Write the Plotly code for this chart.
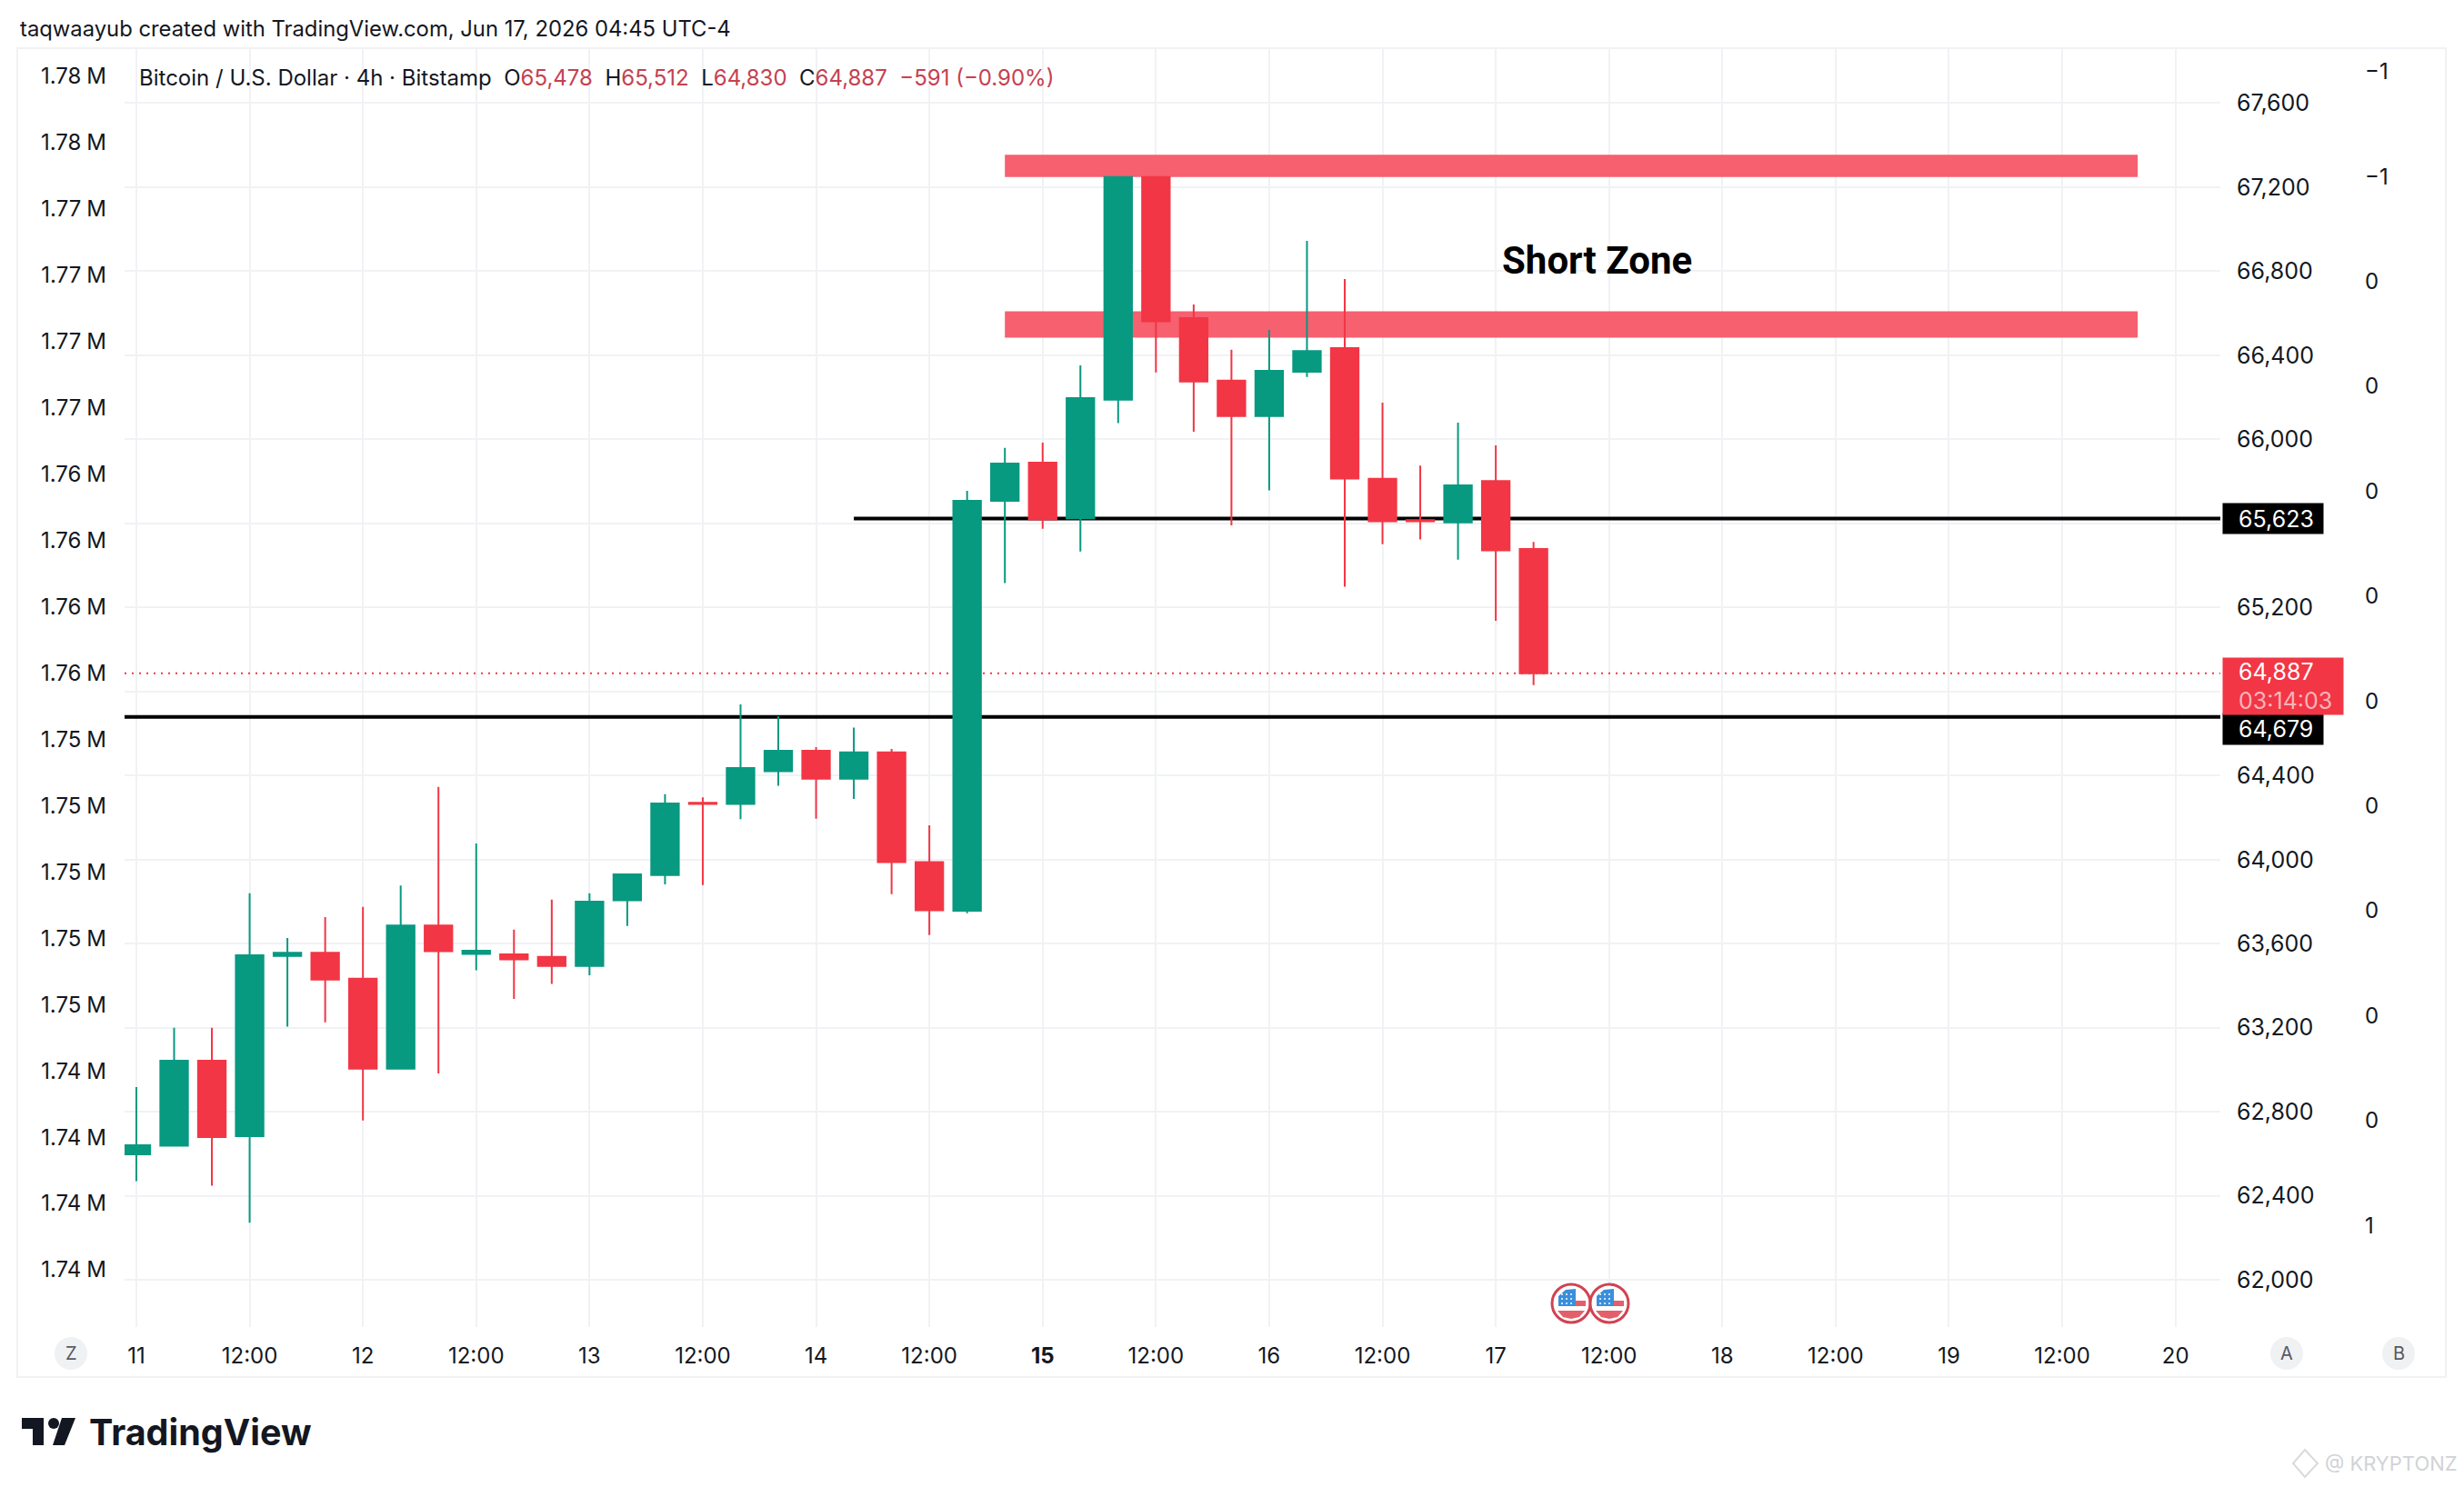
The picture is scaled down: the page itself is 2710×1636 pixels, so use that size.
# BTC 4h chart with short zone, tradingview style
import pandas as pd
import plotly.graph_objects as go

W = 2710
H = 1636

# candles, every 4h from jun 11 00:00
candle_open = [62598, 62639, 63043, 62684, 63542, 63557, 63433, 63005, 63687, 63551,
               63549, 63537, 63494, 63807, 63927, 64270, 64265, 64421, 64518, 64385,
               64510, 63988, 63757, 65707, 65889, 65624, 66188, 67248, 66576, 66279,
               66111, 66321, 66434, 65812, 65615, 65605, 65801, 65478]
candle_high = [62918, 63200, 63200, 63840, 63627, 63727, 63775, 63877, 64346, 64077,
               63667, 63810, 63840, 63930, 64311, 64296, 64739, 64682, 64535, 64628,
               64527, 64163, 65755, 65959, 65984, 66352, 67248, 67248, 66641, 66426,
               66520, 66944, 66762, 66174, 65875, 66079, 65971, 65512]
candle_low = [62470, 62639, 62448, 62272, 63205, 63226, 62759, 63005, 62983, 63474,
              63337, 63409, 63450, 63684, 63882, 63879, 64192, 64351, 64195, 64289,
              63836, 63641, 63745, 65316, 65574, 65466, 66077, 66318, 66036, 65591,
              65757, 66297, 65299, 65501, 65523, 65427, 65136, 64830]
candle_close = [62641, 63043, 62680, 63545, 63557, 63429, 63005, 63687, 63564, 63566,
                63525, 63494, 63800, 63930, 64267, 64265, 64436, 64518, 64385, 64510,
                63988, 63759, 65707, 65885, 65619, 66196, 67248, 66561, 66275, 66111,
                66326, 66420, 65813, 65610, 65610, 65781, 65472, 64887]
times = pd.date_range("2026-06-11 00:00", periods=len(candle_open), freq="4h")

price_ticks = [67600, 67200, 66800, 66400, 66000, 65600, 65200, 64800, 64400, 64000,
               63600, 63200, 62800, 62400, 62000]
price_labels = ["67,600", "67,200", "66,800", "66,400", "66,000", "", "65,200", "", "64,400",
                "64,000", "63,600", "63,200", "62,800", "62,400", "62,000"]

left_ticks = [1782500, 1780000, 1777500, 1775000, 1772500, 1770000, 1767500, 1765000, 1762500,
              1760000, 1757500, 1755000, 1752500, 1750000, 1747500, 1745000, 1742500, 1740000,
              1737500]
left_labels = ["1.78", "1.78", "1.77", "1.77", "1.77", "1.77", "1.76", "1.76", "1.76", "1.76",
               "1.75", "1.75", "1.75", "1.75", "1.75", "1.74", "1.74", "1.74", "1.74"]

right_ticks = [-1.0, -0.8, -0.6, -0.4, -0.2, 0.0, 0.2, 0.4, 0.6, 0.8, 1.0, 1.2]
right_labels = ["−1", "−1", "0", "0", "0", "0", "0", "0", "0", "0", "0", "1"]

time_ticks = pd.date_range("2026-06-11 00:00", periods=19, freq="12h")
time_labels = ["11", "12:00", "12", "12:00", "13", "12:00", "14", "12:00", "<b>15</b>", "12:00",
               "16", "12:00", "17", "12:00", "18", "12:00", "19", "12:00", "20"]

zone_high = [67354, 66609]
zone_low = [67248, 66484]
level_upper = 65623
level_lower = 64679
last_price = 64887

GREEN = "#089981"
RED = "#f23645"
GRID = "#f1f2f5"
INK = "#131722"
FONT = "Inter"


def fx(x):
    return x / W


def fy(y):
    return 1 - y / H


def poly(points):
    return "M" + " L".join(f"{fx(x):.5f},{fy(y):.5f}" for x, y in points) + " Z"


fig = go.Figure()

fig.add_trace(go.Candlestick(
    x=times, open=candle_open, high=candle_high, low=candle_low, close=candle_close,
    increasing=dict(line=dict(color=GREEN, width=2), fillcolor=GREEN),
    decreasing=dict(line=dict(color=RED, width=2), fillcolor=RED),
    whiskerwidth=0, showlegend=False))

# the side axes need a trace or they dont draw
fig.add_trace(go.Scatter(x=times[:1], y=left_ticks[:1], yaxis="y2", mode="none",
                         showlegend=False, hoverinfo="skip"))
fig.add_trace(go.Scatter(x=times[:1], y=right_ticks[:1], yaxis="y3", mode="none",
                         showlegend=False, hoverinfo="skip"))

shapes = []

# frame
shapes.append(dict(type="rect", xref="paper", yref="paper", x0=fx(19), x1=fx(2690),
                   y0=fy(53), y1=fy(1515), line=dict(color=GRID, width=2), layer="below"))

# short zones, "between" keeps them over the grid and under the candles
for hi, lo in zip(zone_high, zone_low):
    shapes.append(dict(type="rect", xref="x", yref="y", x0="2026-06-14 20:00", x1="2026-06-19 20:00",
                       y0=lo, y1=hi, fillcolor="#f6606f", line=dict(width=0), layer="between"))

# levels
shapes.append(dict(type="line", xref="x", yref="y", x0="2026-06-14 04:00", x1="2026-06-20 04:45",
                   y0=level_upper, y1=level_upper, line=dict(color="#000000", width=4), layer="between"))
shapes.append(dict(type="line", xref="x", yref="y", x0="2026-06-10 22:45", x1="2026-06-20 04:45",
                   y0=level_lower, y1=level_lower, line=dict(color="#000000", width=4), layer="between"))
shapes.append(dict(type="line", xref="x", yref="y", x0="2026-06-10 22:45", x1="2026-06-20 04:45",
                   y0=last_price, y1=last_price, line=dict(color=RED, width=2, dash="2px,6px"), layer="between"))

# little round buttons under the chart
for cx in [78, 2515, 2638]:
    shapes.append(dict(type="circle", xref="paper", yref="paper", x0=fx(cx - 18), x1=fx(cx + 18),
                       y0=fy(1489 + 18), y1=fy(1489 - 18), fillcolor="#f0f1f3", line=dict(width=0)))

# tradingview logo
shapes.append(dict(type="path", xref="paper", yref="paper", fillcolor="#131722", line=dict(width=0),
                   path=poly([(24, 1560), (48, 1560), (48, 1590), (36, 1590), (36, 1572), (24, 1572)])))
shapes.append(dict(type="circle", xref="paper", yref="paper", x0=fx(53), x1=fx(65), y0=fy(1572), y1=fy(1560),
                   fillcolor="#131722", line=dict(width=0)))
shapes.append(dict(type="path", xref="paper", yref="paper", fillcolor="#131722", line=dict(width=0),
                   path=poly([(68, 1560), (83, 1560), (71, 1590), (58, 1590)])))

# usa event flags
for cx in [1728, 1770]:
    cy = 1434
    shapes.append(dict(type="circle", xref="paper", yref="paper", x0=fx(cx - 21), x1=fx(cx + 21),
                       y0=fy(cy + 21), y1=fy(cy - 21), fillcolor="#ffffff", line=dict(color="#cf4452", width=3)))
    shapes.append(dict(type="path", xref="paper", yref="paper", fillcolor="#3a8fdc", line=dict(width=0),
                       path=poly([(cx - 14, cy + 3), (cx - 14, cy - 8), (cx - 6, cy - 15), (cx + 5, cy - 16), (cx + 5, cy + 3)])))
    for dx in [-10, -5, 0]:
        for dy in [-10, -5, 0]:
            shapes.append(dict(type="circle", xref="paper", yref="paper", x0=fx(cx + dx - 1), x1=fx(cx + dx + 1),
                               y0=fy(cy + dy + 1), y1=fy(cy + dy - 1), fillcolor="#ffffff", line=dict(width=0)))
    shapes.append(dict(type="path", xref="paper", yref="paper", fillcolor="#e3606a", line=dict(width=0),
                       path=poly([(cx + 5, cy - 3), (cx + 16, cy - 3), (cx + 16, cy + 3), (cx + 5, cy + 3)])))
    shapes.append(dict(type="path", xref="paper", yref="paper", fillcolor="#e3606a", line=dict(width=0),
                       path=poly([(cx - 15, cy + 8), (cx + 15, cy + 8), (cx + 9, cy + 15), (cx, cy + 17), (cx - 9, cy + 15)])))

# watermark icon
shapes.append(dict(type="path", xref="paper", yref="paper", fillcolor="rgba(0,0,0,0)",
                   line=dict(color="#d8dadd", width=2),
                   path=poly([(2535, 1595), (2549, 1610), (2535, 1625), (2522, 1610)])))

annotations = []


def note(text, x, y, size=24, color=INK, xanchor="left", family=FONT):
    annotations.append(dict(text=text, xref="paper", yref="paper", x=fx(x), y=fy(y), xanchor=xanchor,
                            yanchor="middle", showarrow=False, font=dict(family=family, size=size, color=color)))


def badge(text, y, bg, width, height, yshift=0):
    annotations.append(dict(text=text, xref="paper", yref="y", x=fx(2444), y=y, xanchor="left", yanchor="middle",
                            yshift=yshift, showarrow=False, bgcolor=bg, width=width, height=height, align="left",
                            borderpad=0, font=dict(family=FONT, size=25, color="#ffffff")))


def red_val(s):
    return f"<span style='color:#c5414f'>{s}</span>"


PAD = "\u2002\u2009"

note("taqwaayub created with TradingView.com, Jun 17, 2026 04:45 UTC-4", 20, 31, size=23.8)
note("Bitcoin / U.S. Dollar · 4h · Bitstamp  O" + red_val("65,478") + "  H" + red_val("65,512") + "  L" + red_val("64,830")
     + "  C" + red_val("64,887") + "  " + red_val("−591 (−0.90%)"), 151, 85, size=24)
note("<b>Short Zone</b>", 1756, 286, size=42, color="#000000", xanchor="center", family="Roboto")
note("Z", 78, 1489, size=20, color="#555a63", xanchor="center")
note("A", 2515, 1489, size=20, color="#555a63", xanchor="center")
note("B", 2638, 1489, size=20, color="#555a63", xanchor="center")
note("<b>TradingView</b>", 96, 1576, size=39.5, color="#131722")
note("@ KRYPTONZ", 2555, 1610, size=22, color="#d0d3d6")

badge(PAD + "65,623", level_upper, "#000000", 110, 33)
badge(PAD + "64,679", level_lower, "#000000", 110, 34, yshift=-13)
badge(PAD + "64,887<br>" + PAD + "<span style='color:#f9b4bb'>03:14:03</span>", last_price, RED, 132, 62, yshift=-14)

fig.update_layout(
    width=W, height=H, autosize=False,
    margin=dict(l=0, r=0, t=0, b=0),
    paper_bgcolor="#ffffff", plot_bgcolor="#ffffff",
    font=dict(family=FONT, size=24, color=INK),
    showlegend=False, boxgap=0.27, boxgroupgap=0,
    shapes=shapes, annotations=annotations,
    xaxis=dict(type="date", domain=[fx(137), fx(2442)], range=["2026-06-10 22:45", "2026-06-20 04:45"],
               tickmode="array", tickvals=list(time_ticks), ticktext=time_labels, ticklabelstandoff=15,
               showgrid=True, gridcolor=GRID, gridwidth=2, showline=False, zeroline=False, ticks="",
               rangeslider=dict(visible=False), automargin=False),
    yaxis=dict(domain=[fy(1460), fy(53)], range=[61776, 67861], side="right", tickmode="array",
               tickvals=price_ticks, ticktext=price_labels, tickfont=dict(size=25), ticklabelstandoff=17,
               showgrid=True, gridcolor=GRID, gridwidth=2, showline=False, zeroline=False, ticks="",
               automargin=False),
    yaxis2=dict(overlaying="y", side="left", anchor="x", range=[1735341, 1783562], tickmode="array",
                tickvals=left_ticks, ticktext=[s + "\u2005M" for s in left_labels], ticklabelstandoff=19,
                showgrid=False, showline=False, zeroline=False, ticks="", automargin=False),
    yaxis3=dict(overlaying="y", side="right", anchor="free", position=fx(2600), range=[1.3937, -1.0448],
                tickmode="array", tickvals=right_ticks, ticktext=right_labels, showgrid=False,
                showline=False, zeroline=False, ticks="", automargin=False),
)

fig.write_html("out.html", config=dict(displayModeBar=False), post_script="document.body.style.margin='0';")
